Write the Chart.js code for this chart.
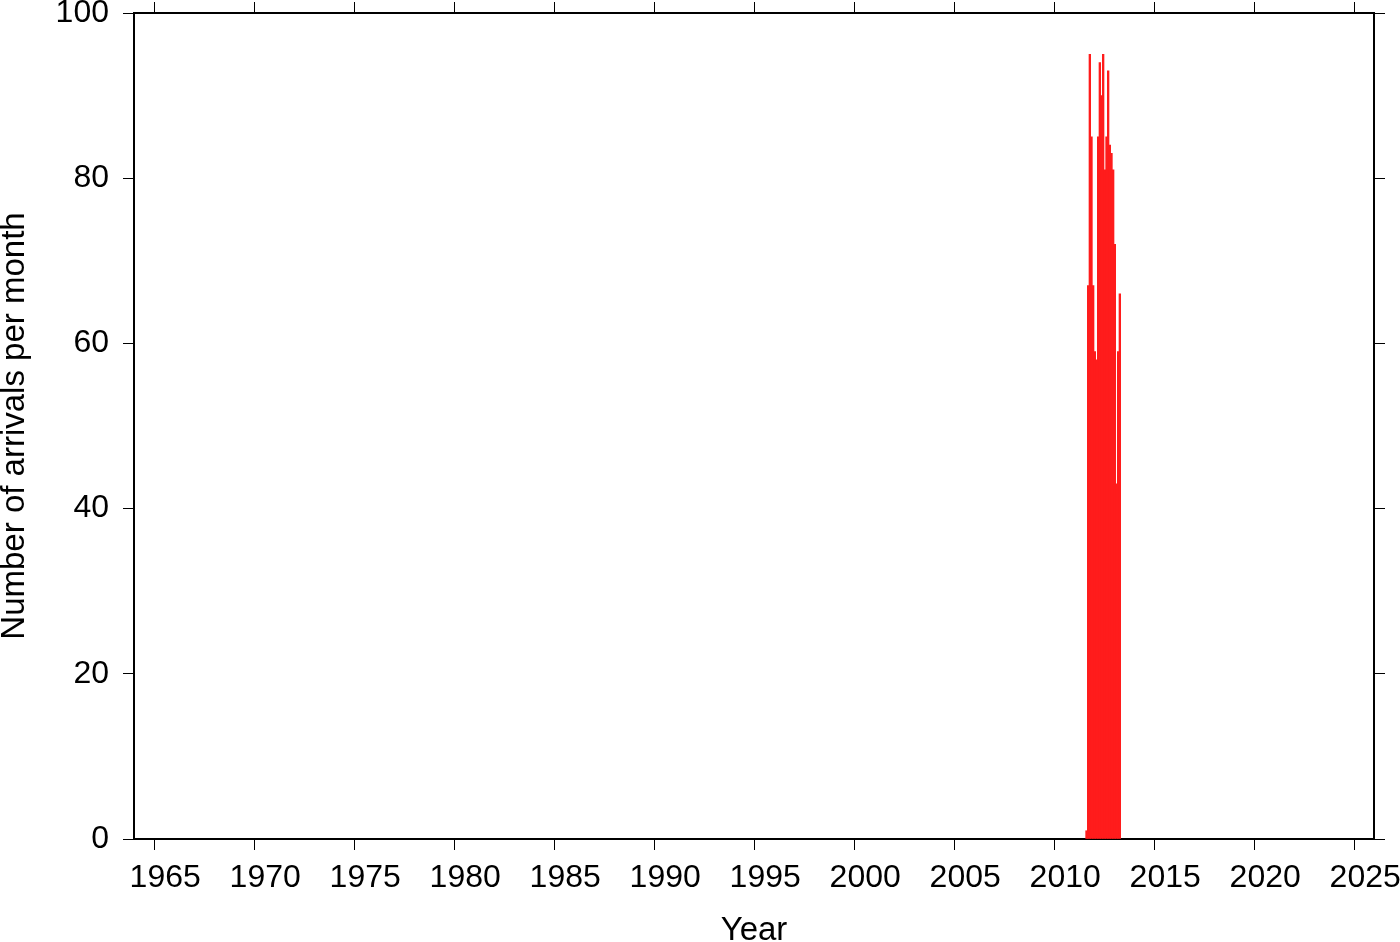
<!DOCTYPE html>
<html>
<head>
<meta charset="utf-8">
<script src="https://cdn.jsdelivr.net/npm/chart.js@4"></script>
<style>
  html, body { margin: 0; padding: 0; background: #fff; }
  #wrap { width: 1400px; height: 942px; }
</style>
</head>
<body>
<div id="wrap"><canvas id="chart" width="1400" height="942"></canvas></div>
<script>
// monthly arrival counts
const months = ['2011-08', '2011-09', '2011-10', '2011-11', '2011-12', '2012-01', '2012-02',
  '2012-03', '2012-04', '2012-05', '2012-06', '2012-07', '2012-08', '2012-09', '2012-10',
  '2012-11', '2012-12', '2013-01', '2013-02', '2013-03', '2013-04'];
const arrivals = [1, 67, 95, 85, 67, 59, 58, 85, 94, 90, 95, 81, 85, 93, 84, 83, 81, 72, 43, 59, 66];

const yearTicks = [1965, 1970, 1975, 1980, 1985, 1990, 1995, 2000, 2005, 2010, 2015, 2020, 2025];
const countTicks = [0, 20, 40, 60, 80, 100];

const FONT = 'Liberation Sans, Arial, Helvetica, sans-serif';

// bar centre sits in the middle of its month
const points = months.map((m, i) => {
  const [y, mo] = m.split('-').map(Number);
  return { x: y + (mo - 0.5) / 12, y: arrivals[i] };
});

function fixSize(prop, value) {
  return scale => {
    scale[prop] = value;
    scale.paddingLeft = 0; scale.paddingRight = 0;
    scale.paddingTop = 0; scale.paddingBottom = 0;
  };
}
function setTicks(values) {
  return scale => { scale.ticks = values.map(v => ({ value: v })); };
}

const grid = { offset: false, drawOnChartArea: false, drawTicks: true, tickLength: 11, color: '#000', lineWidth: 1 };
const border = { display: true, color: '#000', width: 2 };
const tickFont = { family: FONT, size: 32 };
const titleFont = { family: FONT, size: 33, lineHeight: 0.8 };

new Chart(document.getElementById('chart'), {
  type: 'bar',
  data: {
    datasets: [{
      data: points,
      backgroundColor: '#ff1c1c',
      borderWidth: 0,
      barPercentage: 1,
      categoryPercentage: 1
    }]
  },
  options: {
    responsive: false,
    animation: false,
    layout: { padding: 0 },
    plugins: { legend: { display: false }, tooltip: { enabled: false } },
    scales: {
      x: {
        type: 'linear', position: 'bottom', min: 1964, max: 2026, offset: false,
        afterBuildTicks: setTicks(yearTicks),
        afterFit: fixSize('height', 103),
        grid, border,
        // year labels sit a little right of their ticks in the original
        ticks: { color: '#000', font: tickFont, padding: 9, maxRotation: 0, autoSkip: false,
          callback: v => '\u2002\u2009' + v },
        title: { display: true, text: 'Year', color: '#000', font: titleFont,
          padding: { top: 0, bottom: -2 } }
      },
      x2: {
        type: 'linear', position: 'top', min: 1964, max: 2026, offset: false,
        afterBuildTicks: setTicks(yearTicks),
        afterFit: fixSize('height', 13),
        grid, border,
        ticks: { display: false }
      },
      y: {
        type: 'linear', position: 'left', min: 0, max: 100,
        afterBuildTicks: setTicks(countTicks),
        afterFit: fixSize('width', 134),
        grid, border,
        ticks: { color: '#000', font: tickFont, padding: 14 },
        title: { display: true, text: 'Number of arrivals per month', color: '#000', font: titleFont,
          padding: { top: 2, bottom: 0 } }
      },
      y2: {
        type: 'linear', position: 'right', min: 0, max: 100,
        afterBuildTicks: setTicks(countTicks),
        afterFit: fixSize('width', 26),
        grid, border,
        ticks: { display: false }
      }
    }
  }
});
</script>
</body>
</html>
